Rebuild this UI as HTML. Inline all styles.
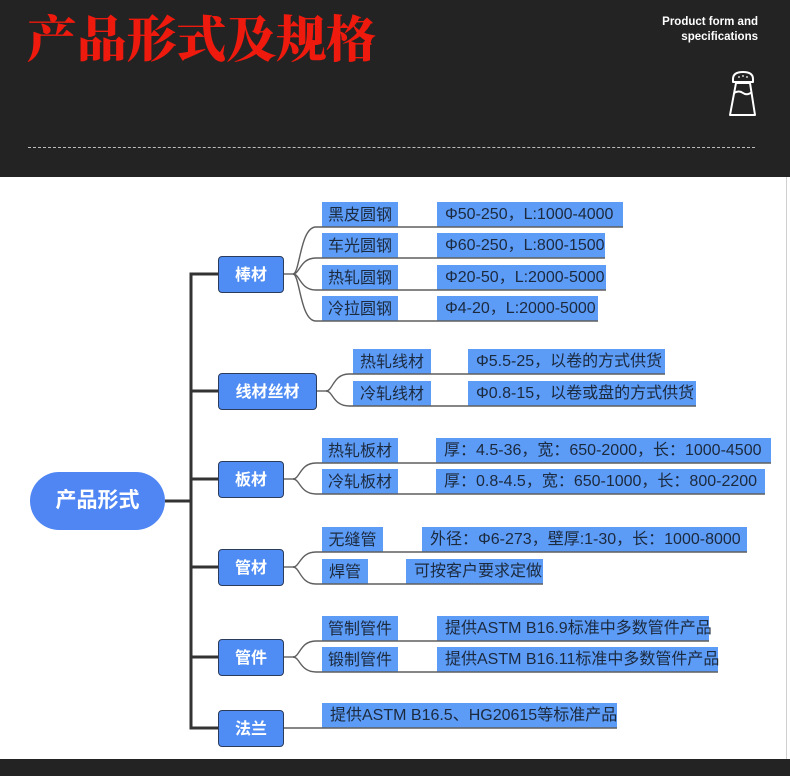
<!DOCTYPE html>
<html><head><meta charset="utf-8">
<style>
*{margin:0;padding:0;box-sizing:border-box}
html,body{width:790px;height:776px;overflow:hidden;background:#fff}
body{position:relative;font-family:"Liberation Sans","Noto Sans CJK SC",sans-serif}
#hdr{position:absolute;left:0;top:0;width:790px;height:177px;background:#232323}
#ftr{position:absolute;left:0;top:759px;width:790px;height:17px;background:#232323}
#title{position:absolute;left:27px;top:4px;font-family:"Noto Serif CJK SC","Noto Sans CJK SC",serif;font-weight:900;font-size:50px;line-height:64px;color:#ee1a0e;white-space:nowrap;letter-spacing:-0.2px}
#en{position:absolute;right:32px;top:15px;text-align:right;color:#fff;font-family:"Liberation Sans",sans-serif;font-weight:bold;font-size:11.5px;line-height:15px}
#dash{position:absolute;left:28px;top:147px;width:727px;height:0;border-top:1.5px dashed #bdbdbd}
.k,.v{position:absolute;height:25px;background:#5c9bf6;color:#1c2a3e;font-size:16px;white-space:nowrap;overflow:visible}
.k{text-align:center;font-family:"Noto Sans CJK SC","Liberation Sans",sans-serif;line-height:22px}
.v{padding-left:8px;line-height:26px}
.b{position:absolute;left:218px;height:37px;background:#4f8df4;border:1.5px solid #2a3b5c;border-radius:4px;color:#fff;font-weight:bold;font-size:16px;line-height:32px;text-align:center;font-family:"Noto Sans CJK SC",sans-serif}
#root{position:absolute;left:30px;top:472px;width:135px;height:58px;border-radius:29px;background:#4f86f4;color:#fff;font-weight:bold;font-size:21px;line-height:54px;text-align:center;font-family:"Noto Sans CJK SC",sans-serif}
#edge{position:absolute;left:786px;top:177px;width:1px;height:582px;background:#cfcfcf}
svg{position:absolute;left:0;top:0}
</style></head><body>
<div id="hdr"></div>
<div id="title">产品形式及规格</div>
<div id="en">Product form and<br>specifications</div>
<svg width="790" height="177" style="z-index:2">
  <g fill="none" stroke="#fff" stroke-width="2" stroke-linejoin="round">
    <path d="M733 82 L733 79 Q733 72 743 72 Q753 72 753 79 L753 82 Z"/>
    <path d="M736 83 L750 83 L755 115 L730 115 Z"/>
    <path d="M734 93 Q739 90 743 93 Q747 96 752 92"/>
  </g>
  <g fill="#fff"><circle cx="739" cy="77" r="0.9"/><circle cx="743" cy="76" r="0.9"/><circle cx="747" cy="77" r="0.9"/></g>
</svg>
<div id="dash"></div>
<div id="edge"></div>

<div id="root">产品形式</div>
<div class="b" style="top:256px;width:66px">棒材</div>
<div class="b" style="top:373px;width:99px">线材丝材</div>
<div class="b" style="top:461px;width:66px">板材</div>
<div class="b" style="top:549px;width:66px">管材</div>
<div class="b" style="top:639px;width:66px">管件</div>
<div class="b" style="top:710px;width:66px">法兰</div>

<!-- 棒材 -->
<div class="k" style="left:322px;top:202px;width:76px">黑皮圆钢</div>
<div class="v" style="left:437px;top:202px;width:186px">Φ50-250，L:1000-4000</div>
<div class="k" style="left:322px;top:233px;width:76px">车光圆钢</div>
<div class="v" style="left:437px;top:233px;width:168px">Φ60-250，L:800-1500</div>
<div class="k" style="left:322px;top:265px;width:76px">热轧圆钢</div>
<div class="v" style="left:437px;top:265px;width:169px">Φ20-50，L:2000-5000</div>
<div class="k" style="left:322px;top:296px;width:76px">冷拉圆钢</div>
<div class="v" style="left:437px;top:296px;width:161px">Φ4-20，L:2000-5000</div>
<!-- 线材 -->
<div class="k" style="left:353px;top:349px;width:78px">热轧线材</div>
<div class="v" style="left:468px;top:349px;width:197px">Φ5.5-25，以卷的方式供货</div>
<div class="k" style="left:353px;top:381px;width:78px">冷轧线材</div>
<div class="v" style="left:468px;top:381px;width:228px">Φ0.8-15，以卷或盘的方式供货</div>
<!-- 板材 -->
<div class="k" style="left:322px;top:438px;width:76px">热轧板材</div>
<div class="v" style="left:436px;top:438px;width:335px">厚：4.5-36，宽：650-2000，长：1000-4500</div>
<div class="k" style="left:322px;top:469px;width:76px">冷轧板材</div>
<div class="v" style="left:436px;top:469px;width:329px">厚：0.8-4.5，宽：650-1000，长：800-2200</div>
<!-- 管材 -->
<div class="k" style="left:322px;top:527px;width:61px">无缝管</div>
<div class="v" style="left:422px;top:527px;width:325px">外径：Φ6-273，壁厚:1-30，长：1000-8000</div>
<div class="k" style="left:322px;top:559px;width:46px">焊管</div>
<div class="v" style="left:406px;top:559px;width:137px">可按客户要求定做</div>
<!-- 管件 -->
<div class="k" style="left:322px;top:616px;width:76px">管制管件</div>
<div class="v" style="left:437px;top:616px;width:272px">提供ASTM B16.9标准中多数管件产品</div>
<div class="k" style="left:322px;top:647px;width:76px">锻制管件</div>
<div class="v" style="left:437px;top:647px;width:281px">提供ASTM B16.11标准中多数管件产品</div>
<!-- 法兰 -->
<div class="v" style="left:322px;top:703px;width:295px">提供ASTM B16.5、HG20615等标准产品</div>

<svg width="790" height="776">
  <g fill="none" stroke="#333" stroke-width="3">
    <path d="M165 501 L191 501"/>
    <path d="M218 274 L191 274 L191 728 L218 728"/>
    <path d="M191 391 L218 391 M191 479 L218 479 M191 567 L218 567 M191 657 L218 657"/>
  </g>
  <g fill="none" stroke="#5f5f5f" stroke-width="1.4">
    <path d="M284 274 L293 274"/>
    <path d="M293 274 C300 274 300 227 316 227 L623 227"/>
    <path d="M293 274 C300 274 300 258 316 258 L605 258"/>
    <path d="M293 274 C300 274 300 290 316 290 L606 290"/>
    <path d="M293 274 C300 274 300 321 316 321 L598 321"/>
    <path d="M317 391 L326 391"/>
    <path d="M326 391 C333 391 333 374 349 374 L665 374"/>
    <path d="M326 391 C333 391 333 406 349 406 L696 406"/>
    <path d="M284 479 L293 479"/>
    <path d="M293 479 C300 479 300 463 316 463 L771 463"/>
    <path d="M293 479 C300 479 300 494 316 494 L765 494"/>
    <path d="M284 567 L293 567"/>
    <path d="M293 567 C300 567 300 552 316 552 L747 552"/>
    <path d="M293 567 C300 567 300 584 316 584 L543 584"/>
    <path d="M284 657 L293 657"/>
    <path d="M293 657 C300 657 300 641 316 641 L709 641"/>
    <path d="M293 657 C300 657 300 672 316 672 L718 672"/>
    <path d="M284 728 L617 728"/>
  </g>
</svg>
<div id="ftr"></div>
</body></html>
